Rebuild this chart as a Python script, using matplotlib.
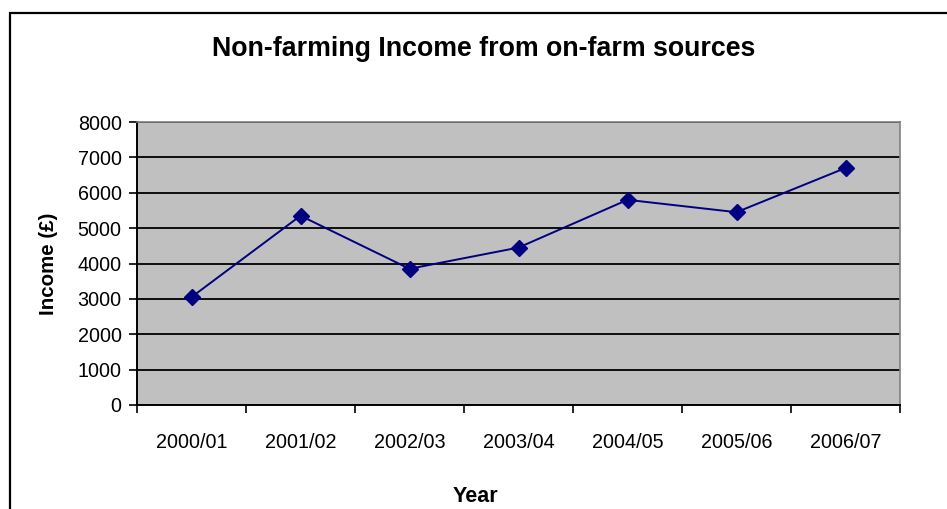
import matplotlib
matplotlib.use("Agg")
import matplotlib.pyplot as plt
from matplotlib.patches import Rectangle
from matplotlib.ticker import FixedLocator, MultipleLocator

# --- data ---
YEARS = ["2000/01", "2001/02", "2002/03", "2003/04", "2004/05", "2005/06", "2006/07"]
INCOME = [3050, 5350, 3850, 4450, 5800, 5450, 6700]

NAVY = "#000080"
PLOT_BG = "#c0c0c0"
FONT = "Liberation Sans"

plt.rcParams["font.family"] = [FONT, "DejaVu Sans"]

W, H = 947, 509
fig = plt.figure(figsize=(W / 100, H / 100), dpi=100)
fig.patch.set_facecolor("white")

# outer chart frame (runs off the right / bottom edge like the source)
fig.patches.append(Rectangle((9.5 / W, -0.1), 1.2, (H - 13.5) / H + 0.1,
                             transform=fig.transFigure, fill=False,
                             edgecolor="black", linewidth=1.6))

# plot area in pixel box
L, R, T, B = 137, 900, 122, 405
ax = fig.add_axes([L / W, 1 - B / H, (R - L) / W, (B - T) / H])
ax.set_facecolor(PLOT_BG)

x = list(range(len(YEARS)))
ax.plot(x, INCOME, color=NAVY, linewidth=1.4, marker="D", markersize=8,
        markerfacecolor=NAVY, markeredgecolor=NAVY, zorder=3)

ax.set_xlim(-0.5, len(YEARS) - 0.5)
ax.set_ylim(0, 8000)

ax.yaxis.set_major_locator(MultipleLocator(1000))
ax.grid(axis="y", color="black", linewidth=1.3)
ax.set_axisbelow(True)

ax.set_xticks(x)
ax.set_xticklabels(YEARS)
ax.xaxis.set_minor_locator(FixedLocator([i - 0.5 for i in range(len(YEARS) + 1)]))
ax.tick_params(axis="x", which="major", length=0, pad=20, labelsize=14.2)
ax.tick_params(axis="x", which="minor", length=6, width=1.2, direction="out")
ax.tick_params(axis="y", length=6, width=1.2, direction="out", pad=5, labelsize=14.2)

for side in ("top", "right"):
    ax.spines[side].set_color("#808080")
    ax.spines[side].set_linewidth(1.2)
for side in ("bottom", "left"):
    ax.spines[side].set_color("black")
    ax.spines[side].set_linewidth(1.4)

fig.text(484 / W, 1 - 49 / H, "Non-farming Income from on-farm sources",
         ha="center", va="center", fontsize=19.3, fontweight="bold")
fig.text(49 / W, 1 - 264 / H, "Income (£)", ha="center", va="center",
         rotation=90, fontsize=14.8, fontweight="bold")
fig.text(475 / W, 1 - 497 / H, "Year", ha="center", va="center",
         fontsize=15.5, fontweight="bold")

fig.savefig("out.png", dpi=100, facecolor="white")
